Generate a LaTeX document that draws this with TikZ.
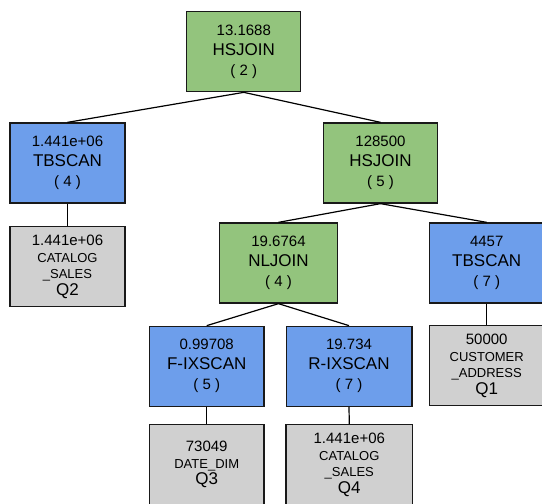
\documentclass[tikz,border=0pt]{standalone}
\usepackage{fontspec}
\setmainfont{Liberation Sans}
\definecolor{opgreen}{HTML}{93C47D}
\definecolor{opblue}{HTML}{6D9EEB}
\definecolor{opgrey}{HTML}{D0D0D0}
\newcommand{\numf}{\fontsize{15}{20}\selectfont}
\newcommand{\opf}{\fontsize{17}{20}\selectfont}
\newcommand{\tabf}{\fontsize{13}{16.5}\selectfont}
\newcommand{\qf}{\fontsize{17}{16.5}\selectfont}
\begin{document}
\begin{tikzpicture}[x=1pt,y=-1pt,
  opbox/.style={draw=black!90, line width=1.3pt, rectangle, inner sep=0pt,
    minimum height=80pt, align=center, font=\numf, text=black},
  joinbox/.style={opbox, fill=opgreen},
  scanbox/.style={opbox, fill=opblue},
  tabbox/.style={opbox, fill=opgrey, font=\tabf},
  link/.style={line width=1.2pt, black}]
\useasboundingbox (0,0) rectangle (542,504);
% operators
\node[joinbox, minimum width=114pt] (n2) at (243.8,51.7) {13.1688\\{\opf HSJOIN}\\( 2 )};
\node[scanbox, minimum width=115pt] (tb4) at (67.5,163) {1.441e+06\\{\opf TBSCAN}\\( 4 )};
\node[joinbox, minimum width=114.4pt] (hs5) at (380.5,163) {128500\\{\opf HSJOIN}\\( 5 )};
\node[joinbox, minimum width=118pt] (nl4) at (278.5,263) {19.6764\\{\opf NLJOIN}\\( 4 )};
\node[scanbox, minimum width=115pt] (tb7) at (486.7,263) {4457\\{\opf TBSCAN}\\( 7 )};
\node[scanbox, minimum width=114.7pt] (fx5) at (206.7,366.3) {0.99708\\{\opf F-IXSCAN}\\( 5 )};
\node[scanbox, minimum width=125.7pt] (rx7) at (349,366.3) {19.734\\{\opf R-IXSCAN}\\( 7 )};
% tables
\node[tabbox, minimum width=115pt] (q2) at (67.5,266.8) {{\numf 1.441e+06}\\CATALOG\\\_SALES\\{\qf Q2}};
\node[tabbox, minimum width=115pt] (q1) at (486.7,365.8) {{\numf 50000}\\CUSTOMER\\\_ADDRESS\\{\qf Q1}};
\node[tabbox, minimum width=114.7pt] (q3) at (206.7,464.7) {{\numf 73049}\\DATE\_DIM\\{\qf Q3}};
\node[tabbox, minimum width=126.7pt] (q4) at (349.3,464.7) {{\numf 1.441e+06}\\CATALOG\\\_SALES\\{\qf Q4}};
% connectors
\draw[link] (n2.south) -- (tb4.north);
\draw[link] (n2.south) -- (hs5.north);
\draw[link] (tb4.south) -- (q2.north);
\draw[link] (hs5.south) -- (nl4.north);
\draw[link] (hs5.south) -- (tb7.north);
\draw[link] (nl4.south) -- (fx5.north);
\draw[link] (nl4.south) -- (rx7.north);
\draw[link] (tb7.south) -- (q1.north);
\draw[link] (fx5.south) -- (q3.north);
\draw[link] (rx7.south) -- (q4.north);
\end{tikzpicture}
\end{document}
